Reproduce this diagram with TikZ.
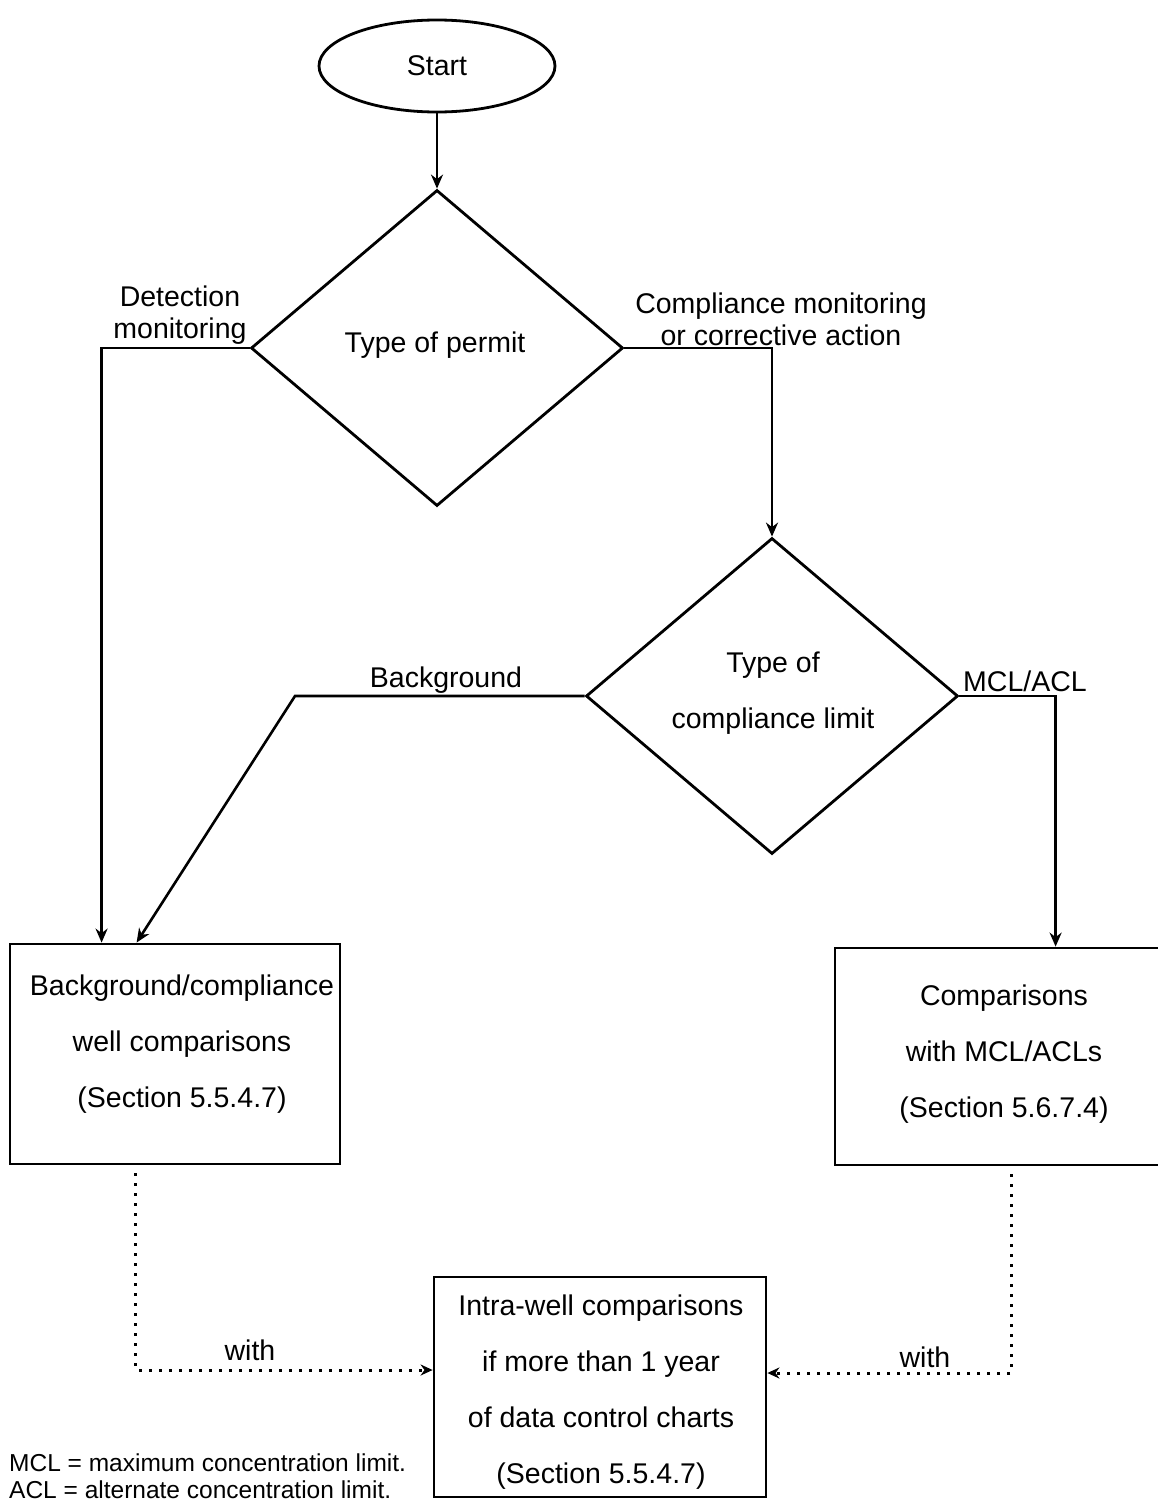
\documentclass[tikz,border=0pt]{standalone}
\usepackage{fontspec}
\setmainfont{Liberation Sans}
\usetikzlibrary{shapes.geometric,arrows.meta,calc}
\begin{document}
\begin{tikzpicture}[x=1pt,y=-1pt,
  every node/.style={font=\fontsize{28.5}{56}\selectfont, inner sep=0pt},
  shape line/.style={draw=black, line width=2.8pt},
  startnode/.style={shape line, ellipse, minimum width=236pt, minimum height=92pt},
  decision/.style={shape line, diamond, minimum width=372pt, minimum height=316pt},
  procbox/.style={shape line, rectangle},
  lbl/.style={align=center, font=\fontsize{28.5}{32}\selectfont},
  boxtext/.style={align=center, font=\fontsize{28.5}{56}\selectfont},
  notetext/.style={anchor=west, font=\fontsize{24.5}{27}\selectfont},
  arr/.style={line width=2.6pt, -{Stealth[length=14pt,width=12pt]}},
  dotarr/.style={line width=3pt, dash pattern=on 3pt off 7pt, -{Stealth[length=12pt,width=11pt]}}
]
\useasboundingbox[fill=white] (0,0) rectangle (1158,1502);

% nodes
\node[startnode] (start) at (437,66) {Start};
\node[decision] (d1) at (437,348) {};
\node[lbl] (d1t) at (435,345) {Type of permit};
\node[decision] (d2) at (772,696) {};
\node[boxtext] (d2t) at (773,693) {Type of\\compliance limit};

\node[procbox, minimum width=330pt, minimum height=220pt] (b1) at (175,1054) {};
\node[boxtext] (b1t) at (182,1044) {Background/compliance\\well comparisons\\(Section 5.5.4.7)};

\node[procbox, minimum width=330pt, minimum height=217pt] (b2) at (1000,1056.5) {};
\node[boxtext] (b2t) at (1004,1054) {Comparisons\\with MCL/ACLs\\(Section 5.6.7.4)};

\node[procbox, minimum width=332pt, minimum height=220pt] (b3) at (600,1387) {};
\node[boxtext] (b3t) at (601,1392) {Intra-well comparisons\\if more than 1 year\\of data control charts\\(Section 5.5.4.7)};

% connector labels
\node[lbl] (l1) at (180,315) {Detection\\monitoring};
\node[lbl] (l2) at (781,319) {Compliance monitoring\\or corrective action};
\node[lbl] (l3) at (446,680) {Background};
\node[lbl] (l4) at (1025,681) {MCL/ACL};
\node[lbl] (l5) at (250,1350) {with};
\node[lbl] (l6) at (925,1357) {with};

% footnote
\node[notetext] (n1) at (9,1463) {MCL = maximum concentration limit.};
\node[notetext] (n2) at (9,1490) {ACL = alternate concentration limit.};

% connectors
\coordinate (bend) at (295,696);
\draw[arr] (start.south) -- (d1.north);
\draw[arr] (d1.west) -| ([xshift=93pt]b1.north west);
\draw[arr] (d1.east) -| (d2.north);
\draw[arr] (d2.west) -- (bend) -- ([xshift=128pt]b1.north west);
\draw[arr] (d2.east) -| ([xshift=222pt]b2.north west);
\draw[dotarr] ([xshift=127pt,yshift=-8pt]b1.south west) |- ([yshift=17pt]b3.west);
\draw[dotarr] ([xshift=178pt,yshift=-8pt]b2.south west) |- ([yshift=14pt]b3.east);
\end{tikzpicture}
\end{document}
